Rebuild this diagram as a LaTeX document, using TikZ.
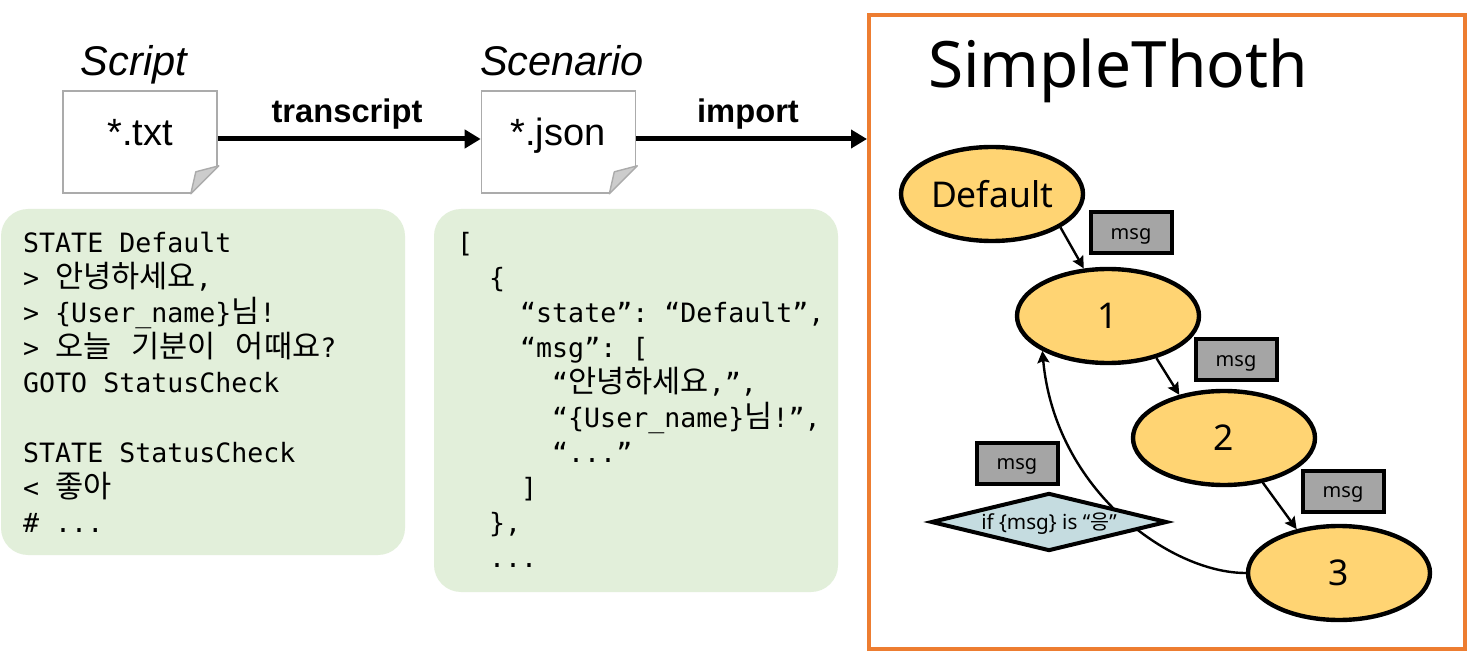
\documentclass[tikz,border=0pt]{standalone}
\usepackage{fontspec}
\setmainfont{Noto Sans}
\setmonofont{DejaVu Sans Mono}
\newfontfamily\cjk{Noto Sans CJK KR}
\newfontfamily\cjkcode[Scale=1.15]{Noto Sans CJK KR}
\newfontfamily\arl{Liberation Sans}
\usetikzlibrary{arrows.meta,shapes.geometric}
\definecolor{orangeframe}{HTML}{ED7D31}
\definecolor{greenpanel}{HTML}{E2EFDA}
\definecolor{statefill}{HTML}{FFD473}
\definecolor{msgfill}{HTML}{A5A5A5}
\definecolor{condfill}{HTML}{C5DCE0}
\definecolor{docline}{HTML}{ABABAB}
\definecolor{foldfill}{HTML}{CCCCCC}
\newcommand{\fs}[2]{\fontsize{#1}{#2}\selectfont}
\newcommand{\ind}[1]{\hspace*{#1pt}}
\tikzset{
  x=1pt,y=-1pt,
  docbox/.style={draw=docline,line width=1.6pt,fill=white,minimum width=154pt,minimum height=102pt,inner sep=0pt},
  fold/.style={draw=docline,line width=1.4pt,fill=foldfill,line join=round},
  doctitle/.style={font=\arl\itshape\fs{41.5}{46},inner sep=0pt,anchor=base},
  doctext/.style={font=\arl\fs{38}{42},inner sep=0pt,anchor=base},
  bigarrow/.style={line width=5pt,-{Triangle[length=16pt,width=18pt]}},
  arrowlabel/.style={font=\arl\bfseries\fs{32.7}{36},inner sep=0pt,anchor=base},
  panel/.style={fill=greenpanel,rounded corners=27pt},
  code/.style={font=\ttfamily\fs{26.6}{35},align=left,inner sep=0pt,anchor=north west},
  statenode/.style={ellipse,draw=black,line width=4.4pt,fill=statefill,minimum width=182pt,minimum height=94pt,inner sep=0pt,font=\fs{35.5}{42}},
  msgbox/.style={draw=black,line width=4pt,fill=msgfill,minimum width=81pt,minimum height=41pt,inner sep=0pt,font=\fs{20}{24},text height=13pt,text depth=0pt},
  cond/.style={diamond,draw=black,line width=4pt,fill=condfill,aspect=3.95,minimum width=236pt,minimum height=58pt,inner sep=0pt,font=\fs{20.7}{24}},
  flow/.style={line width=2.4pt,-{Stealth[length=12pt,width=12pt,inset=2pt]}},
  backflow/.style={line width=2.4pt,-{Stealth[length=12pt,width=12pt,inset=2pt]}},
}
\begin{document}
\begin{tikzpicture}
\useasboundingbox[fill=white] (0,0) rectangle (1468,652);

% documents
\node[docbox] (d1) at (140,142) {};
\node[docbox] (d2) at (558.5,142) {};
\fill[white] ([xshift=-27pt]d1.south east) -- ([xshift=1pt,yshift=-1pt]d1.south east) -- ([xshift=1pt,yshift=28pt]d1.south east) -- cycle;
\draw[fold] ([xshift=-27pt]d1.south east) -- ([yshift=28pt,xshift=1pt]d1.south east) -- ([xshift=-22pt,yshift=22pt]d1.south east) -- cycle;
\fill[white] ([xshift=-27pt]d2.south east) -- ([xshift=1pt,yshift=-1pt]d2.south east) -- ([xshift=1pt,yshift=28pt]d2.south east) -- cycle;
\draw[fold] ([xshift=-27pt]d2.south east) -- ([yshift=28pt,xshift=1pt]d2.south east) -- ([xshift=-22pt,yshift=22pt]d2.south east) -- cycle;
\node[doctitle] (t1) at (134,76) {Script};
\node[doctitle] (t2) at (562,76) {Scenario};
\node[doctext] (x1) at (140,146) {*.txt};
\node[doctext] (x2) at (558,146) {*.json};

% frame
\node[draw=orangeframe,line width=4pt,minimum width=596pt,minimum height=634pt,inner sep=0pt] (frame) at (1167,332) {};
\node[font=\fs{64}{76},inner sep=0pt,anchor=base] (title) at (1118,88) {SimpleThoth};

% arrows
\draw[bigarrow] ([yshift=3pt]d1.east) -- ([yshift=3pt]d2.west);
\draw[bigarrow] ([yshift=3pt]d2.east) -- ([yshift=3pt]d2.east -| frame.west);
\node[arrowlabel] (l1) at (347,123) {transcript};
\node[arrowlabel] (l2) at (748,123) {import};

% panels
\fill[panel] (1,209) rectangle (405,555);
\fill[panel] (434,209) rectangle (838,592);
\node[code] (c1) at (23,232) {STATE Default\\
> {\cjkcode 안녕하세요},\\
> \{User\_name\}{\cjkcode 님}!\\
> {\cjkcode 오늘\ind{20}기분이\ind{20}어때요}?\\
GOTO StatusCheck\\
\mbox{}\\
STATE StatusCheck\\
< {\cjkcode 좋아}\\
\# ...};
\node[code] (c2) at (457,232) {[\\
\ind{32}\{\\
\ind{63}“state”: “Default”,\\
\ind{63}“msg”: [\\
\ind{95}“{\cjkcode 안녕하세요},”,\\
\ind{95}“\{User\_name\}{\cjkcode 님}!”,\\
\ind{95}“...”\\
\ind{64}]\\
\ind{32}\},\\
\ind{32}...};

% state graph
\node[statenode] (def) at (992,194) {Default};
\node[statenode] (n1) at (1108,316) {1};
\node[statenode] (n2) at (1224,438) {2};
\node[statenode] (n3) at (1339,573) {3};
\draw[flow] (def.-26) -- (n1.117);
\draw[flow] (n1.-41) -- (n2.136);
\draw[flow] (n2.-49) -- (n3.134);
\draw[backflow] (n3.west) .. controls (1170,573) and (1055,490) .. (n1.208);
\node[msgbox] (m1) at (1131,233) {msg};
\node[msgbox] (m2) at (1236,360) {msg};
\node[msgbox] (m3) at (1343,491) {msg};
\node[msgbox] (m4) at (1017,463) {msg};
\node[cond,text height=15pt,text depth=1pt] (c) at (1049,522) {if \{msg\} is “{\cjk 응}”};
\end{tikzpicture}
\end{document}
